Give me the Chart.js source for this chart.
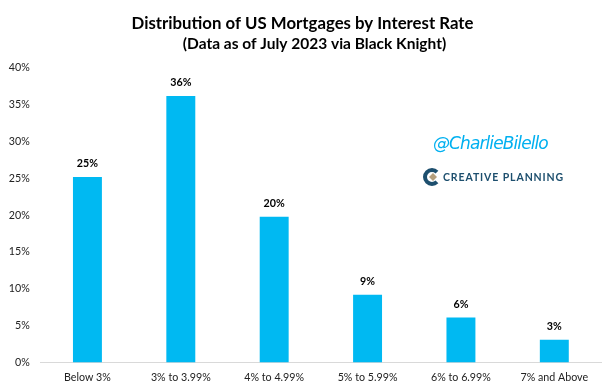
<!DOCTYPE html>
<html>
<head>
<meta charset="utf-8">
<style>
html, body { margin: 0; padding: 0; background: #fff; }
#wrap { width: 605px; height: 390px; }
</style>
<script src="https://cdn.jsdelivr.net/npm/chart.js@4"></script>
</head>
<body>
<div id="wrap"><canvas id="rateChart" width="605" height="390"></canvas></div>
<script>
const categories = ['Below 3%', '3% to 3.99%', '4% to 4.99%', '5% to 5.99%', '6% to 6.99%', '7% and Above'];
const shares = [25.2, 36.2, 19.8, 9.2, 6.1, 3.1];
const shareLabels = ['25%', '36%', '20%', '9%', '6%', '3%'];

const fontName = 'Lato, "Open Sans", sans-serif';

// value labels above the bars
const barLabels = {
    id: 'barLabels',
    afterDatasetsDraw(chart) {
        const ctx = chart.ctx;
        ctx.save();
        ctx.font = 'bold 10.7px ' + fontName;
        ctx.fillStyle = '#000';
        ctx.textAlign = 'center';
        ctx.textBaseline = 'alphabetic';
        chart.getDatasetMeta(0).data.forEach((bar, i) => {
            ctx.fillText(shareLabels[i], bar.x, bar.y - 10);
        });
        ctx.restore();
    }
};

// subtitle sits right of centre in the original, so it is drawn here
const branding = {
    id: 'branding',
    afterDraw(chart) {
        const ctx = chart.ctx;
        ctx.save();
        ctx.font = 'bold 15.5px ' + fontName;
        ctx.fillStyle = '#000';
        ctx.textAlign = 'center';
        ctx.textBaseline = 'middle';
        ctx.fillText('(Data as of July 2023 via Black Knight)', 314.5, 44);

        ctx.textAlign = 'left';
        ctx.textBaseline = 'alphabetic';
        ctx.font = 'italic 17px "DejaVu Sans", sans-serif';
        ctx.letterSpacing = '-0.9px';
        ctx.fillStyle = '#00b0f0';
        ctx.fillText('@CharlieBilello', 433, 149);

        ctx.fillStyle = '#1d4f6e';
        ctx.beginPath();
        ctx.arc(432, 177, 9, 0.25 * Math.PI, 1.75 * Math.PI);
        ctx.arc(432, 177, 5, 1.75 * Math.PI, 0.25 * Math.PI, true);
        ctx.closePath();
        ctx.fill();
        ctx.fillStyle = '#b59f7c';
        ctx.beginPath();
        ctx.moveTo(433, 173);
        ctx.lineTo(437, 177);
        ctx.lineTo(433, 181);
        ctx.lineTo(429, 177);
        ctx.closePath();
        ctx.fill();

        ctx.fillStyle = '#1d4f6e';
        ctx.font = 'bold 10.5px ' + fontName;
        ctx.letterSpacing = '0.9px';
        ctx.fillText('CREATIVE PLANNING', 443, 181);
        ctx.restore();
    }
};

new Chart(document.getElementById('rateChart'), {
    type: 'bar',
    data: {
        labels: categories,
        datasets: [{
            data: shares,
            backgroundColor: '#00b9f2',
            categoryPercentage: 1,
            barPercentage: 0.31
        }]
    },
    plugins: [barLabels, branding],
    options: {
        responsive: false,
        animation: false,
        layout: { padding: { left: 4, right: 4, top: 9, bottom: 0 } },
        plugins: {
            legend: { display: false },
            tooltip: { enabled: false },
            title: {
                display: true,
                text: 'Distribution of US Mortgages by Interest Rate',
                color: '#000',
                font: { family: fontName, size: 16.8, weight: 'bold' },
                padding: { top: 5, bottom: 33.8 }
            }
        },
        scales: {
            x: {
                grid: { display: false, drawTicks: false },
                border: { color: '#d9d9d9' },
                afterFit: scale => { scale.height = 27.5; },
                ticks: {
                    color: '#222',
                    padding: 9,
                    maxRotation: 0,
                    font: { family: fontName, size: 10.7 }
                }
            },
            y: {
                min: 0,
                max: 40,
                grid: { display: false, drawTicks: false },
                border: { display: false },
                afterFit: scale => { scale.width = 36.75; },
                ticks: {
                    stepSize: 5,
                    color: '#222',
                    padding: 11,
                    font: { family: fontName, size: 10.7 },
                    callback: value => value + '%'
                }
            }
        }
    }
});
</script>
</body>
</html>
